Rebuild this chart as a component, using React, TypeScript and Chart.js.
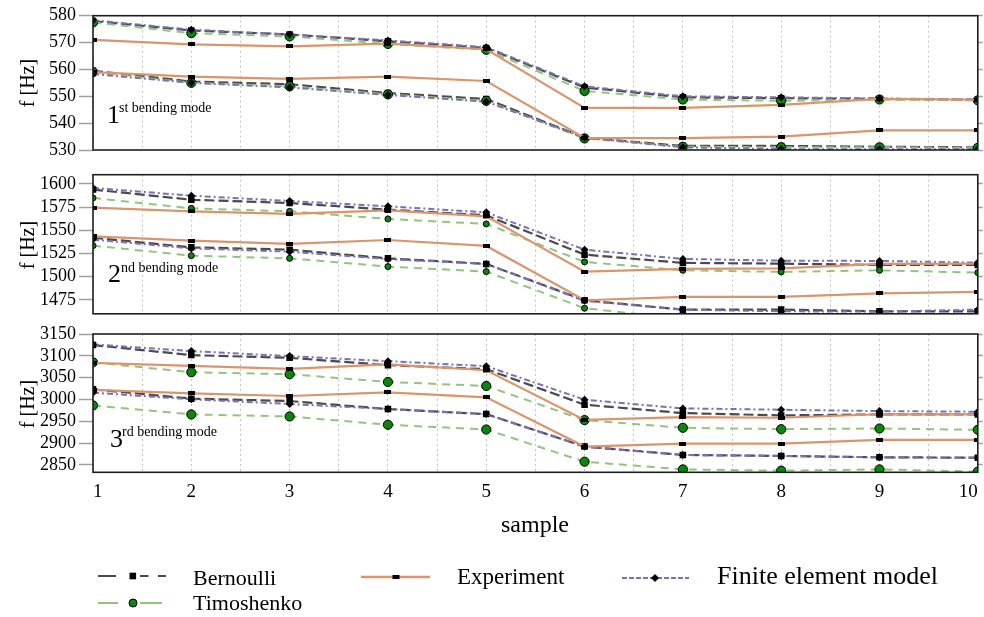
import React, { useEffect, useRef } from 'react';
import { Chart, registerables } from 'chart.js';

Chart.register(...registerables);

const FONT = "'Liberation Serif', 'Times New Roman', Times, serif";

// ---------- data ----------
const samples = [1, 2, 3, 4, 5, 6, 7, 8, 9, 10];

// 1st bending mode
const bernoulli1Upper = [578, 574.5, 573, 570.5, 568, 553.3, 549.6, 549.3, 549, 548.7];
const bernoulli1Lower = [559.5, 555.5, 554.5, 551.2, 549, 534.6, 531.5, 531.5, 531.2, 531];
const timoshenko1Upper = [577.5, 573.5, 572.3, 569.5, 567.3, 552, 548.8, 548.3, 548.8, 548.5];
const timoshenko1Lower = [559, 555, 553.7, 550.7, 548.3, 534.3, 531.2, 531, 531, 530.8];
const experiment1Upper = [571, 569.3, 568.6, 569.6, 567.5, 545.7, 545.7, 546.8, 549, 548.7];
const experiment1Lower = [559, 557.3, 556.5, 557.3, 555.7, 534.5, 534.4, 535, 537.3, 537.3];
const fem1Upper = [578.3, 574.8, 573, 570.8, 568.3, 553.7, 550, 549.6, 549.2, 548.8];
const fem1Lower = [558.3, 555, 553.3, 550.5, 548, 534.6, 531, 530.3, 530.3, 530.3];

// 2nd bending mode
const bernoulli2Upper = [1594, 1583, 1579.5, 1572.3, 1566.2, 1523.8, 1514.9, 1514.1, 1512.7, 1512.7];
const bernoulli2Lower = [1542, 1531.7, 1529.2, 1519.8, 1513.8, 1474.6, 1464.5, 1464.5, 1462.7, 1462.7];
const timoshenko2Upper = [1584.9, 1573.7, 1570.5, 1562.3, 1556.9, 1516, 1506.9, 1505.2, 1506.9, 1504.4];
const timoshenko2Lower = [1533.5, 1522.7, 1519.8, 1510.9, 1505.5, 1466, 1454.5, 1453, 1453, 1452.5];
const experiment2Upper = [1574.5, 1570.5, 1567.7, 1571.6, 1565.1, 1505.5, 1508.4, 1509, 1513.8, 1514.1];
const experiment2Lower = [1543.5, 1538.9, 1535.3, 1539.6, 1533.2, 1474.6, 1478.2, 1478.2, 1482.1, 1483.6];
const fem2Upper = [1595.7, 1587.4, 1581.7, 1575.9, 1569.4, 1529.2, 1519.2, 1517.3, 1517, 1515.2];
const fem2Lower = [1540, 1530.5, 1527, 1519, 1513.8, 1474, 1464.5, 1462.7, 1462.3, 1464.5];

// 3rd bending mode
const bernoulli3Upper = [3124.6, 3101.6, 3095.4, 3078.6, 3069.4, 2988, 2968.7, 2963.4, 2965.7, 2965.7];
const bernoulli3Lower = [3023.3, 3001.8, 2996.4, 2978, 2966.4, 2891.9, 2872.8, 2870.5, 2867.3, 2866.6];
const timoshenko3Upper = [3085, 3062.4, 3057.8, 3040.1, 3030.9, 2952.6, 2935, 2931.8, 2933.4, 2930.4];
const timoshenko3Lower = [2986.4, 2965.7, 2961, 2942, 2931.1, 2857.4, 2839.6, 2836.7, 2839.6, 2834.5];
const experiment3Upper = [3084, 3077, 3070, 3080.2, 3067, 2953, 2959.5, 2958, 2966, 2965.7];
const experiment3Lower = [3022, 3014, 3007.9, 3016.4, 3004.8, 2891.9, 2898.9, 2898.9, 2907.4, 2907.4];
const fem3Upper = [3126.2, 3110.8, 3099.3, 3087.8, 3076.3, 2999.5, 2979.5, 2976.4, 2973.3, 2971.9];
const fem3Lower = [3015.6, 3000.3, 2989.6, 2978, 2966.4, 2891.9, 2872.8, 2870.5, 2867.3, 2866];

// tick labels
const yTicks1 = [530, 540, 550, 560, 570, 580];
const yTicks2 = [1475, 1500, 1525, 1550, 1575, 1600];
const yTicks3 = [2850, 2900, 2950, 3000, 3050, 3100, 3150];
const yRange1 = [530, 580];
const yRange2 = [1460, 1610];
const yRange3 = [2833, 3150];
const xRange = [1, 10];

const seriesNames = ['Bernoulli', 'Timoshenko', 'Experiment', 'Finite element model'];
const modeLabels = [
  { main: '1', sup: 'st bending mode' },
  { main: '2', sup: 'nd bending mode' },
  { main: '3', sup: 'rd bending mode' },
];

// ---------- styles ----------
const C = {
  bern: '#4a4a4a',
  timo: '#93c47d',
  timoFill: '#0b850b',
  exp: '#d9956b',
  fe: '#7b70b4',
};

function rectImage(w: number, h: number) {
  const c = document.createElement('canvas');
  c.width = w;
  c.height = h;
  const x = c.getContext('2d')!;
  x.fillStyle = '#000';
  x.fillRect(0, 0, w, h);
  return c;
}

const framePlugin = {
  id: 'frame',
  afterDraw(chart: any) {
    const { ctx, chartArea } = chart;
    const { left, top, right, bottom } = chartArea;
    ctx.save();
    ctx.strokeStyle = '#1e1e1e';
    ctx.lineWidth = 1.6;
    ctx.strokeRect(left, top, right - left, bottom - top);
    ctx.restore();
  },
};

type PanelDef = {
  series: number[][]; // bernU, bernL, timoU, timoL, expU, expL, feU, feL
  range: number[];
  ticks: number[];
  padTop: number;
  padBottom: number;
  showX: boolean;
  xHeight: number;
  circleR: number;
};

function buildPanel(canvas: HTMLCanvasElement, def: PanelDef) {
  const pts = (arr: number[]) => arr.map((y, i) => ({ x: samples[i], y }));
  const expMarker = rectImage(7, 4);
  const bern = (d: number[]) => ({
    label: seriesNames[0], data: pts(d), borderColor: C.bern, borderWidth: 2.2, borderDash: [10, 4],
    pointStyle: 'rect', pointRadius: 4.6, pointBackgroundColor: '#000', pointBorderColor: '#000',
    pointBorderWidth: 0, order: 4, tension: 0, fill: false,
  });
  const timo = (d: number[]) => ({
    label: seriesNames[1], data: pts(d), borderColor: C.timo, borderWidth: 2, borderDash: [8, 6],
    pointStyle: 'circle', pointRadius: def.circleR, pointBackgroundColor: C.timoFill, pointBorderColor: '#000',
    pointBorderWidth: 1, order: 3, tension: 0, fill: false,
  });
  const exp = (d: number[]) => ({
    label: seriesNames[2], data: pts(d), borderColor: C.exp, borderWidth: 2.2,
    pointStyle: expMarker, pointRadius: 3, pointBackgroundColor: '#000', pointBorderColor: '#000',
    order: 1, tension: 0, fill: false,
  });
  const fe = (d: number[]) => ({
    label: seriesNames[3], data: pts(d), borderColor: C.fe, borderWidth: 2, borderDash: [6, 3, 2, 3],
    pointStyle: 'rectRot', pointRadius: 4, pointBackgroundColor: '#000', pointBorderColor: '#000',
    pointBorderWidth: 0, order: 2, tension: 0, fill: false,
  });
  const s = def.series;
  const datasets = [
    bern(s[0]), bern(s[1]), timo(s[2]), timo(s[3]), exp(s[4]), exp(s[5]), fe(s[6]), fe(s[7]),
  ];
  const setTicks = (sc: any) => {
    sc.ticks = def.ticks.map((v) => ({ value: v }));
  };
  return new Chart(canvas, {
    type: 'line',
    data: { datasets } as any,
    plugins: [framePlugin],
    options: {
      animation: false,
      responsive: false,
      events: [],
      layout: { padding: { top: def.padTop, bottom: def.padBottom, left: 0, right: 0 } },
      plugins: { legend: { display: false }, tooltip: { enabled: false } },
      scales: {
        x: {
          type: 'linear',
          min: xRange[0],
          max: xRange[1],
          position: 'bottom',
          ticks: {
            stepSize: 0.5,
            autoSkip: false,
            maxRotation: 0,
            minRotation: 0,
            display: def.showX,
            align: 'inner',
            padding: 8,
            color: '#000',
            font: { family: FONT, size: 19 },
            callback: (v: any) => (Number.isInteger(v) ? String(v) : ''),
          },
          grid: { color: '#c4c4c4', lineWidth: 1, drawTicks: false },
          border: { display: false, dash: [2, 3] },
          afterFit: (sc: any) => {
            sc.height = def.xHeight;
            sc.paddingLeft = 0;
            sc.paddingRight = 0;
          },
        },
        y: {
          type: 'linear',
          position: 'left',
          min: def.range[0],
          max: def.range[1],
          afterBuildTicks: setTicks,
          ticks: {
            autoSkip: false,
            color: '#000',
            padding: 3,
            font: { family: FONT, size: 18 },
            callback: (v: any) => String(v),
          },
          grid: { drawOnChartArea: false, drawTicks: true, tickLength: 14, tickColor: '#a0a0a0', tickWidth: 1.5 },
          border: { display: false },
          afterFit: (sc: any) => {
            sc.width = 93;
            sc.paddingTop = 0;
            sc.paddingBottom = 0;
          },
        },
        y2: {
          type: 'linear',
          position: 'right',
          min: def.range[0],
          max: def.range[1],
          afterBuildTicks: setTicks,
          ticks: { display: false, autoSkip: false },
          grid: { drawOnChartArea: false, drawTicks: true, tickLength: 5, tickColor: '#a0a0a0', tickWidth: 1.5 },
          border: { display: false },
          afterFit: (sc: any) => {
            sc.width = 5;
            sc.paddingTop = 0;
            sc.paddingBottom = 0;
          },
        },
      },
    } as any,
  });
}

const panels: PanelDef[] = [
  {
    series: [bernoulli1Upper, bernoulli1Lower, timoshenko1Upper, timoshenko1Lower, experiment1Upper, experiment1Lower, fem1Upper, fem1Lower],
    range: yRange1, ticks: yTicks1, padTop: 15.7, padBottom: 10, showX: false, xHeight: 0, circleR: 4.6,
  },
  {
    series: [bernoulli2Upper, bernoulli2Lower, timoshenko2Upper, timoshenko2Lower, experiment2Upper, experiment2Lower, fem2Upper, fem2Lower],
    range: yRange2, ticks: yTicks2, padTop: 14.7, padBottom: 5.7, showX: false, xHeight: 0, circleR: 3,
  },
  {
    series: [bernoulli3Upper, bernoulli3Lower, timoshenko3Upper, timoshenko3Lower, experiment3Upper, experiment3Lower, fem3Upper, fem3Lower],
    range: yRange3, ticks: yTicks3, padTop: 14, padBottom: 0, showX: true, xHeight: 47.7, circleR: 4.6,
  },
];

const canvasBoxes = [
  { top: 0, height: 160 },
  { top: 160, height: 160 },
  { top: 320, height: 200 },
];

// baseline → top for Liberation Serif with line-height 1em
const topFor = (baseline: number, size: number) => baseline - 0.8375 * size;

function Txt({ x, baseline, size, children }: { x: number; baseline: number; size: number; children: any }) {
  return (
    <span
      style={{
        position: 'absolute',
        left: x,
        top: topFor(baseline, size),
        fontSize: size,
        lineHeight: `${size}px`,
        fontFamily: FONT,
        color: '#000',
        whiteSpace: 'nowrap',
      }}
    >
      {children}
    </span>
  );
}

const modePos = [
  { x: 107, base: 124, supX: 119, supBase: 113 },
  { x: 108, base: 283, supX: 121, supBase: 273 },
  { x: 110, base: 448, supX: 122, supBase: 437 },
];
const yTitleCenters = [83, 245, 404];

export default function App() {
  const refs = [useRef<HTMLCanvasElement>(null), useRef<HTMLCanvasElement>(null), useRef<HTMLCanvasElement>(null)];

  useEffect(() => {
    const charts = panels.map((p, i) => buildPanel(refs[i].current!, p));
    return () => charts.forEach((c) => c.destroy());
  }, []);

  return (
    <div
      style={{
        position: 'absolute', left: 0, top: 0, width: 984, height: 617, background: '#fff',
        overflow: 'hidden', fontFamily: FONT,
      }}
    >
      {canvasBoxes.map((b, i) => (
        <canvas
          key={i}
          ref={refs[i]}
          width={984}
          height={b.height}
          style={{ position: 'absolute', left: 0, top: b.top, width: 984, height: b.height }}
        />
      ))}

      {/* y axis titles */}
      {yTitleCenters.map((yc, i) => (
        <div
          key={'yt' + i}
          style={{
            position: 'absolute', left: 27 - 50, top: yc - 12, width: 100, height: 24, lineHeight: '24px',
            textAlign: 'center', fontSize: 20, fontFamily: FONT, transform: 'rotate(-90deg)', whiteSpace: 'nowrap',
          }}
        >
          f [Hz]
        </div>
      ))}

      {/* mode annotations */}
      {modeLabels.map((m, i) => (
        <React.Fragment key={'m' + i}>
          <Txt x={modePos[i].x} baseline={modePos[i].base} size={26}>{m.main}</Txt>
          <Txt x={modePos[i].supX} baseline={modePos[i].supBase} size={14}>{m.sup}</Txt>
        </React.Fragment>
      ))}

      {/* x axis title */}
      <div
        style={{
          position: 'absolute', left: 535 - 100, width: 200, top: topFor(532, 24), fontSize: 24,
          lineHeight: '24px', textAlign: 'center', fontFamily: FONT,
        }}
      >
        sample
      </div>

      {/* legend samples */}
      <svg width={984} height={617} style={{ position: 'absolute', left: 0, top: 0, pointerEvents: 'none' }}>
        {/* Bernoulli */}
        <line x1={98} y1={576} x2={116} y2={576} stroke={C.bern} strokeWidth={2} />
        <rect x={129.5} y={572.7} width={6.6} height={6.6} fill="#000" />
        <line x1={140} y1={576} x2={148.5} y2={576} stroke={C.bern} strokeWidth={2} />
        <line x1={158} y1={576} x2={166} y2={576} stroke={C.bern} strokeWidth={2} />
        {/* Timoshenko */}
        <line x1={98} y1={603} x2={118} y2={603} stroke={C.timo} strokeWidth={2} />
        <circle cx={133} cy={603} r={4} fill={C.timoFill} stroke="#000" strokeWidth={1} />
        <line x1={140} y1={603} x2={162} y2={603} stroke={C.timo} strokeWidth={2} />
        {/* Experiment */}
        <line x1={361} y1={577} x2={430} y2={577} stroke={C.exp} strokeWidth={2.4} />
        <rect x={392.5} y={575} width={7} height={4} fill="#000" />
        {/* FE */}
        <line x1={622} y1={578} x2={689} y2={578} stroke={C.fe} strokeWidth={2} strokeDasharray="5,2" />
        <polygon points="655,574 659,578 655,582 651,578" fill="#000" />
      </svg>

      {/* legend texts */}
      <Txt x={193} baseline={585} size={22}>{seriesNames[0]}</Txt>
      <Txt x={193} baseline={610} size={22}>{seriesNames[1]}</Txt>
      <Txt x={457} baseline={584} size={23}>{seriesNames[2]}</Txt>
      <Txt x={717} baseline={585} size={26}>{seriesNames[3]}</Txt>
    </div>
  );
}
